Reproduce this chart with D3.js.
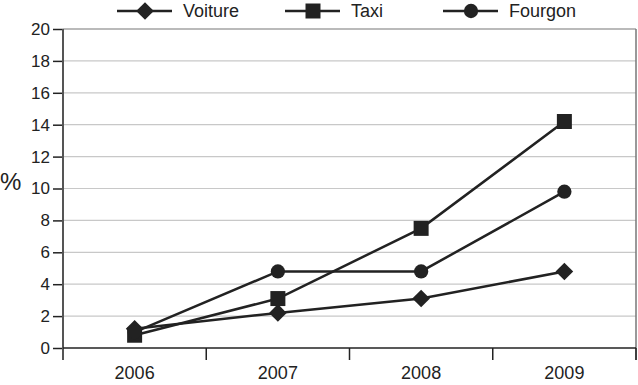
<!DOCTYPE html>
<html><head><meta charset="utf-8">
<script src="https://cdn.jsdelivr.net/npm/d3@7"></script>
<style>body{margin:0;background:#fff}svg{display:block}text{font-family:"Liberation Sans",Arial,sans-serif;fill:#222}</style>
</head><body><svg id="c" width="638" height="385"></svg>
<script>
const years = ["2006","2007","2008","2009"];
const voiture = [1.2, 2.2, 3.1, 4.8];
const taxi = [0.8, 3.1, 7.5, 14.2];
const fourgon = [1.0, 4.8, 4.8, 9.8];
const yTicks = [0,2,4,6,8,10,12,14,16,18,20];
const seriesNames = ["Voiture","Taxi","Fourgon"];
const seriesData = [voiture, taxi, fourgon];

const svg = d3.select("#c");
const L = 63, R = 636, T = 29, B = 348;
const x = d3.scaleBand().domain(years).range([L, R]);
const y = d3.scaleLinear().domain([0, 20]).range([B, T]);
const col = "#222";

function marker(sel, k, tx, ty) {
  const p = sel.append("path").attr("fill", col);
  if (k === 0) p.attr("d", d3.symbol().type(d3.symbolSquare).size(155)()).attr("transform", `translate(${tx},${ty}) rotate(45)`);
  else if (k === 1) p.attr("d", d3.symbol().type(d3.symbolSquare).size(225)()).attr("transform", `translate(${tx},${ty})`);
  else p.attr("d", d3.symbol().type(d3.symbolCircle).size(160)()).attr("transform", `translate(${tx},${ty})`);
}

// gridlines
svg.append("g").selectAll("line").data(yTicks.filter(d=>d>0)).join("line")
  .attr("x1", L).attr("x2", R).attr("y1", d=>y(d)).attr("y2", d=>y(d))
  .attr("stroke", d=> d===20 ? "#777" : "#c8c8c8").attr("stroke-width", 1.2);

// right border
svg.append("line").attr("x1", R).attr("x2", R).attr("y1", T).attr("y2", B + 12)
  .attr("stroke", "#777").attr("stroke-width", 1.5);

// y axis
const ya = svg.append("g").attr("transform", `translate(${L},0)`)
  .call(d3.axisLeft(y).tickValues(yTicks).tickSize(10).tickPadding(3).tickFormat(d3.format("d")));
ya.select(".domain").remove();
ya.selectAll(".tick line").attr("stroke", col).attr("stroke-width", 1.5);
ya.selectAll("text").attr("font-size", 17).attr("font-family", '"Liberation Sans",Arial,sans-serif').style("fill", col);
svg.append("line").attr("x1", L).attr("x2", L).attr("y1", T).attr("y2", B + 12)
  .attr("stroke", "#555").attr("stroke-width", 2);

// x axis
svg.append("line").attr("x1", L).attr("x2", R).attr("y1", B).attr("y2", B)
  .attr("stroke", col).attr("stroke-width", 1.5);
const bounds = years.map(d => x(d)).concat([R]);
svg.append("g").selectAll("line").data(bounds.slice(1)).join("line")
  .attr("x1", d=>d).attr("x2", d=>d).attr("y1", B).attr("y2", B + 12)
  .attr("stroke", col).attr("stroke-width", 1.5);
svg.append("g").selectAll("text").data(years).join("text")
  .attr("x", d => x(d) + x.bandwidth()/2).attr("y", B + 31)
  .attr("text-anchor", "middle").attr("font-size", 18).text(d=>d);

// % label
svg.append("text").attr("x", 0).attr("y", 190).attr("font-size", 24).text("%");

// series
const cx = i => x(years[i]) + x.bandwidth()/2;
const line = d3.line().x((d,i)=>cx(i)).y(d=>y(d));
seriesData.forEach((s) => {
  svg.append("path").datum(s).attr("d", line).attr("fill", "none")
    .attr("stroke", col).attr("stroke-width", 2.5);
});
seriesData.forEach((s, k) => {
  const g = svg.append("g");
  s.forEach((d, i) => marker(g, k, cx(i), y(d)));
});

// legend
const legX = [117, 285, 443];
seriesNames.forEach((n, k) => {
  const g = svg.append("g").attr("transform", `translate(${legX[k]},11)`);
  g.append("line").attr("x1", 0).attr("x2", 55).attr("y1", 0).attr("y2", 0)
    .attr("stroke", col).attr("stroke-width", 2.5);
  marker(g, k, 28, 0);
  g.append("text").attr("x", 66).attr("y", 6).attr("font-size", 18).text(n);
});
</script></body></html>
